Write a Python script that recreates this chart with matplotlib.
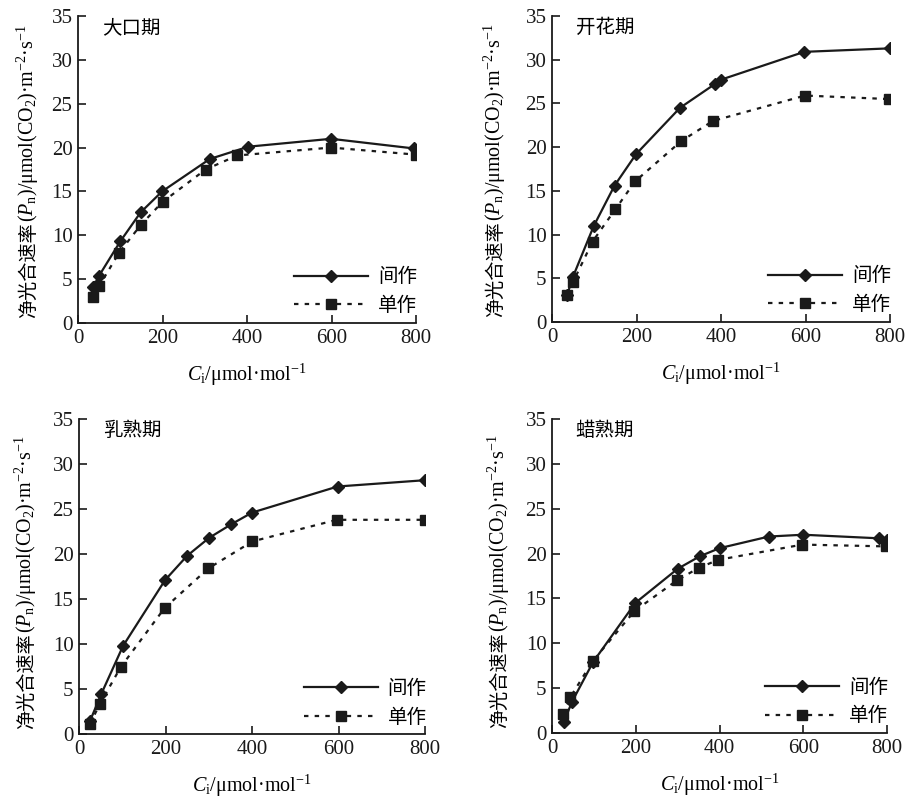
import matplotlib
matplotlib.use("Agg")
import matplotlib.pyplot as plt

plt.rcParams['font.family'] = ['Liberation Serif', 'Noto Sans CJK SC', 'DejaVu Sans']
plt.rcParams['mathtext.fontset'] = 'custom'
plt.rcParams['mathtext.rm'] = 'Liberation Serif'
plt.rcParams['mathtext.it'] = 'Liberation Serif:italic'

titles = ["大口期", "开花期", "乳熟期", "蜡熟期"]
series_names = ["间作", "单作"]

# 大口期
p1_inter_x = [36, 50, 100, 148, 199, 312, 403, 599, 795]
p1_inter_y = [4.1, 5.4, 9.3, 12.6, 15.0, 18.7, 20.1, 21.0, 19.9]
p1_mono_x = [36, 50, 97, 149, 200, 302, 377, 599, 799]
p1_mono_y = [3.0, 4.2, 8.0, 11.2, 13.8, 17.5, 19.1, 20.0, 19.2]

# 开花期
p2_inter_x = [36, 49, 99, 148, 199, 303, 385, 399, 597, 800]
p2_inter_y = [3.1, 5.1, 11.0, 15.6, 19.2, 24.5, 27.2, 27.7, 30.9, 31.3]
p2_mono_x = [35, 50, 96, 150, 197, 306, 381, 599, 797]
p2_mono_y = [3.1, 4.6, 9.2, 12.9, 16.1, 20.7, 23.0, 25.9, 25.5]

# 乳熟期
p3_inter_x = [25, 52, 102, 199, 250, 301, 352, 400, 598, 800]
p3_inter_y = [1.4, 4.5, 9.8, 17.1, 19.8, 21.8, 23.3, 24.6, 27.5, 28.2]
p3_mono_x = [25, 48, 96, 198, 299, 401, 596, 799]
p3_mono_y = [1.1, 3.3, 7.4, 14.0, 18.4, 21.4, 23.8, 23.8]

# 蜡熟期
p4_inter_x = [28, 48, 98, 199, 300, 353, 400, 518, 600, 781, 800]
p4_inter_y = [1.2, 3.5, 7.9, 14.5, 18.3, 19.7, 20.6, 21.9, 22.1, 21.7, 21.5]
p4_mono_x = [26, 44, 97, 197, 298, 350, 397, 598, 798]
p4_mono_y = [2.1, 4.0, 8.0, 13.6, 17.0, 18.4, 19.3, 21.0, 20.8]

panels = [
    (p1_inter_x, p1_inter_y, p1_mono_x, p1_mono_y),
    (p2_inter_x, p2_inter_y, p2_mono_x, p2_mono_y),
    (p3_inter_x, p3_inter_y, p3_mono_x, p3_mono_y),
    (p4_inter_x, p4_inter_y, p4_mono_x, p4_mono_y),
]

xticks = [0, 200, 400, 600, 800]
yticks = [0, 5, 10, 15, 20, 25, 30, 35]

W, H = 905, 798
positions = [
    [78/W, 1-323/H, (416-78)/W, (323-16)/H],
    [552/W, 1-322/H, (890-552)/W, (322-16)/H],
    [79/W, 1-734/H, (425-79)/W, (734-419)/H],
    [552/W, 1-733/H, (887-552)/W, (733-419)/H],
]
ylabel_xoff = [-44, -51, -47, -47]

fig = plt.figure(figsize=(9.05, 7.98), dpi=100)
renderer = fig.canvas.get_renderer()

ylab_cjk = "净光合速率"
ylab_math = "($P_\\mathrm{n}$)/μmol(CO$_2$)·m$^{-2}$·s$^{-1}$"
xlabel = "$C_\\mathrm{i}$/μmol·mol$^{-1}$"
FS_CJK = 13.8
FS_MATH = 14.4


def text_width(s, **kw):
    t = fig.text(0, 0, s, **kw)
    w = t.get_window_extent(renderer).width
    t.remove()
    return w


w_cjk = text_width(ylab_cjk, fontsize=FS_CJK, family=['Noto Sans CJK SC'])

for pos, title, xoff, (ix, iy, mx, my) in zip(positions, titles, ylabel_xoff, panels):
    ax = fig.add_axes(pos)
    ax.plot(ix, iy, color='#1a1a1a', lw=1.6, marker='D', ms=6.5, label=series_names[0])
    ax.plot(mx, my, color='#1a1a1a', lw=1.6, ls=(0, (2, 2.8)), marker='s', ms=6.5,
            label=series_names[1])
    ax.set_xlim(0, 800)
    ax.set_ylim(0, 35)
    ax.set_xticks(xticks)
    ax.set_yticks(yticks)
    for s in ['top', 'right']:
        ax.spines[s].set_visible(False)
    for s in ['left', 'bottom']:
        ax.spines[s].set_linewidth(1.3)
        ax.spines[s].set_color('#1a1a1a')
    ax.tick_params(direction='in', length=6, width=1.2, labelsize=15, colors='#1a1a1a', pad=4)
    ax.set_xlabel(xlabel, fontsize=14.5, labelpad=10)
    ax.text(0.07, 0.997, title, transform=ax.transAxes, fontsize=14,
            family=['Noto Sans CJK SC'], va='top', ha='left')
    ax.legend(loc='lower right', bbox_to_anchor=(1.055, -0.035), frameon=False,
              handlelength=3.8, labelspacing=0.4, handletextpad=0.5,
              prop={'family': ['Noto Sans CJK SC'], 'size': 14})

    # y label: CJK part + math part, rotated, sharing a baseline
    x0 = pos[0] * W + xoff
    y0 = pos[1] * H + 5
    fig.text(x0 / W, y0 / H, ylab_cjk, rotation=90, rotation_mode='anchor',
             ha='left', va='baseline', fontsize=FS_CJK, family=['Noto Sans CJK SC'])
    fig.text(x0 / W, (y0 + w_cjk) / H, ylab_math, rotation=90, rotation_mode='anchor',
             ha='left', va='baseline', fontsize=FS_MATH)

fig.savefig("out.png", dpi=100)
